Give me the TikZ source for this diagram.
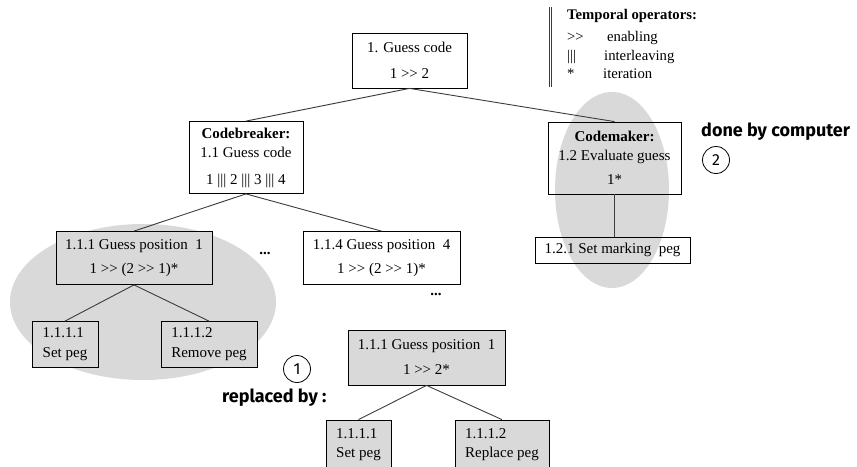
\documentclass[tikz,border=0pt]{standalone}
\usepackage{fontspec}
\setmainfont{Liberation Serif}
\newfontfamily\comic{Fira Sans}
\definecolor{ellgray}{HTML}{D9D9D9}
\definecolor{boxgray}{HTML}{D9D9D9}
\definecolor{linegray}{HTML}{3C3C3C}
\begin{document}
\begin{tikzpicture}[x=1pt,y=-1pt,
  box/.style={draw=black,line width=0.8pt,inner sep=0pt,align=center,
    font=\fontsize{15}{18}\selectfont},
  graybox/.style={box,fill=boxgray},
  leafbox/.style={graybox,align=left},
  conn/.style={draw=linegray,line width=0.9pt},
  legend/.style={anchor=base west,inner sep=0pt,font=\fontsize{14.7}{17}\selectfont},
  note/.style={anchor=base west,inner sep=0pt,font=\comic\bfseries\fontsize{18}{21}\selectfont},
  numcircle/.style={circle,draw=black,line width=0.8pt,minimum size=27pt,inner sep=0pt,
    font=\comic\fontsize{16}{18}\selectfont},
  dots/.style={inner sep=0pt,font=\bfseries\fontsize{15}{18}\selectfont}]
\clip (0,0) rectangle (857,466);
\useasboundingbox (0,0) rectangle (857,466);
% highlight ellipses
\fill[ellgray] (143,302) ellipse [x radius=133, y radius=78];
\fill[ellgray] (612,190) ellipse [x radius=57, y radius=98];
% nodes
\node[box,minimum width=115pt,minimum height=55pt] (top) at (409.5,60.5)
  {1. Guess code\\[8pt]1 >{}> 2};
\node[box,minimum width=114pt,minimum height=72pt] (cb) at (246,157.5)
  {\textbf{Codebreaker:}\\[1pt]1.1 Guess code\\[9pt]1 |{}|{}| 2 |{}|{}| 3 |{}|{}| 4};
\node[box,minimum width=133pt,minimum height=72pt] (cm) at (614.5,158)
  {\textbf{Codemaker:}\\[1pt]1.2 Evaluate guess\\[6pt]1*};
\node[box,minimum width=155pt,minimum height=26pt] (smp) at (612.5,250)
  {1.2.1 Set marking~ peg};
\node[graybox,minimum width=156pt,minimum height=53pt] (g1) at (134,258)
  {1.1.1 Guess position~ 1\\[6pt]1 >{}> (2 >{}> 1)*};
\node[box,minimum width=157pt,minimum height=53pt] (g4) at (381.5,258)
  {1.1.4 Guess position~ 4\\[6pt]1 >{}> (2 >{}> 1)*};
\node[leafbox,minimum width=66pt,minimum height=46pt] (sp1) at (65,344.5)
  {1.1.1.1\\[2pt]Set peg};
\node[leafbox,minimum width=96pt,minimum height=46pt] (rp) at (209,344.5)
  {1.1.1.2\\[2pt]Remove peg};
\node[graybox,minimum width=157pt,minimum height=55pt] (bg1) at (426.5,357.5)
  {1.1.1 Guess position~ 1\\[7pt]1 >{}> 2*};
\node[leafbox,minimum width=65pt,minimum height=50pt] (bsp1) at (358.5,445)
  {1.1.1.1\\[1pt]Set peg};
\node[leafbox,minimum width=94pt,minimum height=50pt] (brp) at (502,445)
  {1.1.1.2\\[1pt]Replace peg};
% dots
\node[dots] (d1) at (265,253) {...};
\node[dots] (d2) at (436,294) {...};
% connectors
\draw[conn] (top.south) -- (cb.north);
\draw[conn] (top.south) -- (cm.north);
\draw[conn] (cb.south) -- (g1.north);
\draw[conn] (cb.south) -- (g4.north);
\draw[conn] (cm.south) -- (cm.south |- smp.north);
\draw[conn] (g1.south) -- (sp1.north);
\draw[conn] (g1.south) -- (rp.north);
\draw[conn] (bg1.south) -- (bsp1.north);
\draw[conn] (bg1.south) -- (brp.north);
% legend
\coordinate (lt) at (549,7);
\coordinate (lb) at (549,87);
\draw[linegray,line width=0.9pt] (lt) -- (lb);
\draw[linegray,line width=0.9pt] ([xshift=2.6pt]lt) -- ([xshift=2.6pt]lb);
\node[legend] (lhead) at (567,19) {\textbf{Temporal operators:}};
\node[legend] (lop1) at (567,41) {>{}>};
\node[legend] (ltx1) at (607,41) {enabling};
\node[legend] (lop2) at (567,60) {|{}|{}|};
\node[legend] (ltx2) at (604,60) {interleaving};
\node[legend] (lop3) at (567,78) {*};
\node[legend] (ltx3) at (603,78) {iteration};
% notes
\node[note] (done) at (701,136) {done by computer};
\node[numcircle] (c2) at (716,160) {2};
\node[numcircle] (c1) at (297,369) {1};
\node[note] (repl) at (222,402) {replaced by :};
\end{tikzpicture}
\end{document}
